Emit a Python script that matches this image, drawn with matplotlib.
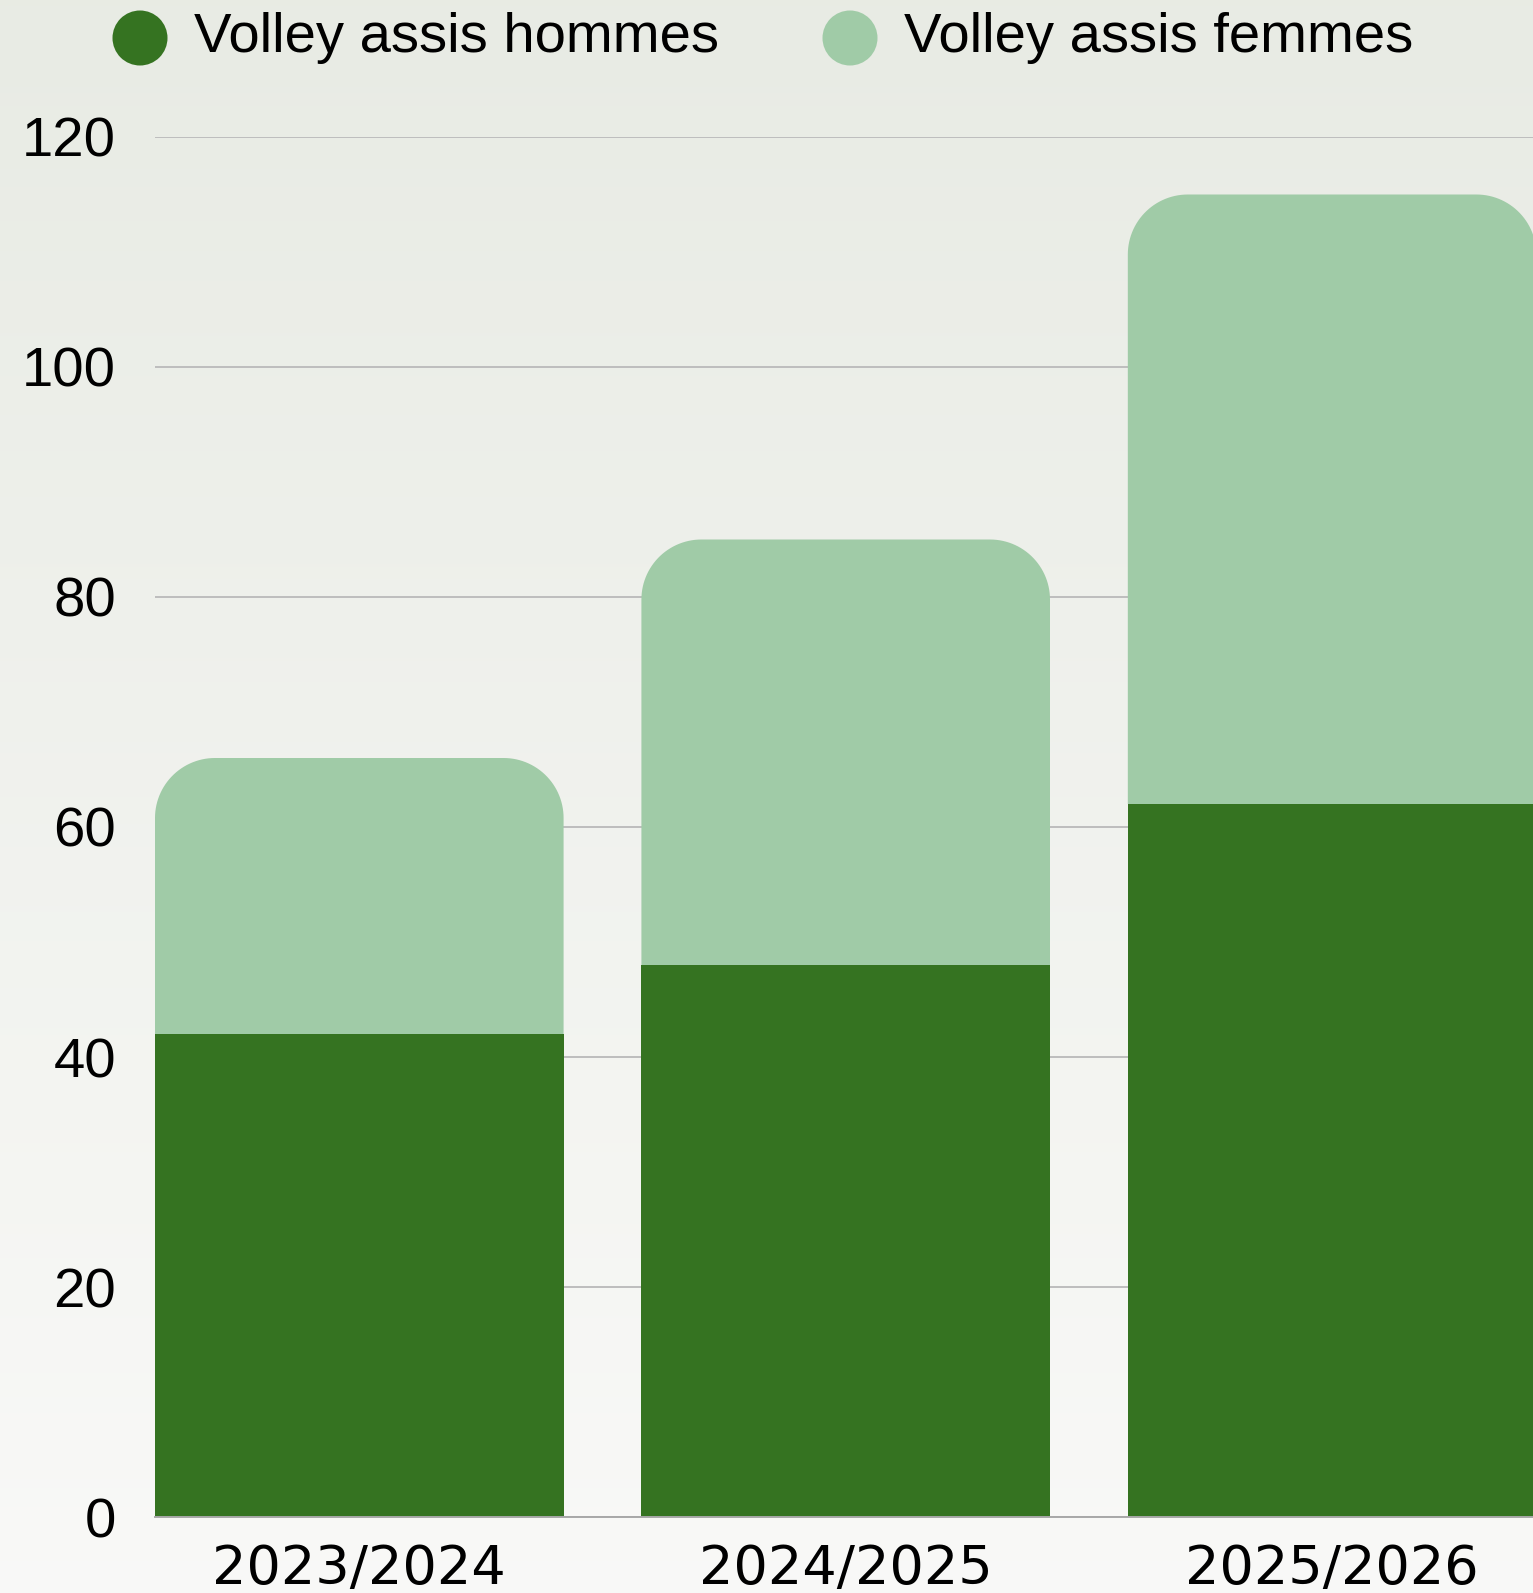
import numpy as np
import matplotlib
matplotlib.use("Agg")
import matplotlib.pyplot as plt
from matplotlib.path import Path
from matplotlib.patches import PathPatch, Circle

plt.rcParams['font.family'] = ['Liberation Sans', 'DejaVu Sans']

# --- data ---
seasons = ['2023/2024', '2024/2025', '2025/2026']
hommes = [42, 48, 62]
femmes = [24, 37, 53]
series_labels = ['Volley assis hommes', 'Volley assis femmes']
y_ticks = [0, 20, 40, 60, 80, 100, 120]

COL_H = '#357321'
COL_F = '#A0CBA7'
W, H = 1533, 1593


def rounded_top(ax, rect, r_px):
    """Replace a bar rectangle with a path whose top corners are rounded (r_px in pixels)."""
    x0, y0 = rect.get_x(), rect.get_y()
    x1, y1 = x0 + rect.get_width(), y0 + rect.get_height()
    p0 = ax.transData.transform((0, 0))
    p1 = ax.transData.transform((1, 1))
    rx = r_px / (p1[0] - p0[0])
    ry = r_px / (p1[1] - p0[1])
    t = np.linspace(0, np.pi / 2, 30)
    verts = [(x0, y0), (x0, y1 - ry)]
    # left corner
    verts += list(zip(x0 + rx - rx * np.cos(t), y1 - ry + ry * np.sin(t)))
    # right corner
    verts += list(zip(x1 - rx + rx * np.sin(t), y1 - ry + ry * np.cos(t)))
    verts += [(x1, y0), (x0, y0)]
    codes = [Path.MOVETO] + [Path.LINETO] * (len(verts) - 2) + [Path.CLOSEPOLY]
    patch = PathPatch(Path(verts, codes), facecolor=rect.get_facecolor(),
                      edgecolor='none', zorder=rect.get_zorder())
    rect.remove()
    ax.add_patch(patch)


fig = plt.figure(figsize=(W / 100, H / 100), dpi=100)

# background gradient + legend layer (pixel coordinates)
bg = fig.add_axes([0, 0, 1, 1], zorder=0)
grad = np.linspace(0, 1, 256)[:, None]
top = np.array([0.910, 0.922, 0.894])
bot = np.array([0.976, 0.976, 0.970])
img = top[None, None, :] * (1 - grad[:, :, None]) + bot[None, None, :] * grad[:, :, None]
bg.imshow(img, extent=[0, W, H, 0], aspect='auto', interpolation='bilinear')
bg.set_xlim(0, W)
bg.set_ylim(H, 0)
bg.axis('off')

# legend
legend_x = [140, 850]
for lx, lab, col in zip(legend_x, series_labels, [COL_H, COL_F]):
    bg.add_patch(Circle((lx, 38), 27.5, color=col, ec='none'))
    bg.text(lx + 54, 52, lab, fontsize=40.5, va='baseline', ha='left', color='black')

# main axes: left 155px, right 1533px, bottom 1517px, top 137px
ax = fig.add_axes([155 / W, 1 - 1517 / H, (W - 155) / W, (1517 - 137) / H], zorder=1)
ax.set_facecolor('none')
x = np.arange(len(seasons))
bw = 0.84
ax.set_xlim(-bw / 2, 2.413)
ax.set_ylim(0, 120)

ax.bar(x, hommes, width=bw, color=COL_H, zorder=2)
bars_f = ax.bar(x, femmes, width=bw, bottom=hommes, color=COL_F, zorder=2)
for rect in list(bars_f):
    rounded_top(ax, rect, 60)

ax.set_yticks(y_ticks)
ax.set_xticks(x)
ax.set_xticklabels(seasons, fontfamily='DejaVu Sans', fontsize=39)
ax.yaxis.grid(True, color='#BDBDBD', linewidth=1.4, zorder=0)
ax.set_axisbelow(True)
for s in ['top', 'right', 'left']:
    ax.spines[s].set_visible(False)
ax.spines['bottom'].set_color('#A8A8A8')
ax.spines['bottom'].set_linewidth(1.4)
ax.tick_params(axis='both', length=0, colors='black')
ax.tick_params(axis='y', pad=28, labelsize=40.5)
ax.tick_params(axis='x', pad=19)

fig.savefig('out.png', dpi=100)
